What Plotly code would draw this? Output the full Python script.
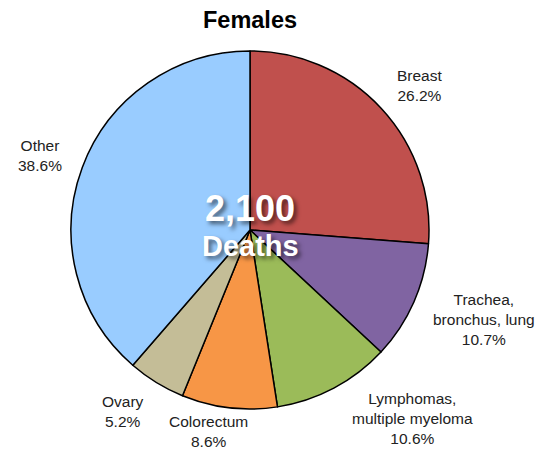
import math
import plotly.graph_objects as go

# Share of female cancer deaths by site
sites = ["Breast", "Trachea,<br>bronchus, lung", "Lymphomas,<br>multiple myeloma",
         "Colorectum", "Ovary", "Other"]
shares = [26.2, 10.7, 10.6, 8.6, 5.2, 38.6]
colors = ["#C0504D", "#8064A2", "#9BBB59", "#F79646", "#C4BD97", "#99CCFF"]
total_deaths = "2,100"

W, H = 550, 450
cx, cy, r = 250, 230, 179  # pie centre and radius in pixels

fig = go.Figure(go.Pie(
    values=shares,
    labels=sites,
    sort=False,
    direction="clockwise",
    rotation=0,
    marker=dict(colors=colors, line=dict(color="black", width=1.5)),
    textinfo="none",
    hoverinfo="label+percent",
    showlegend=False,
    domain=dict(x=[(cx - r) / W, (cx + r) / W], y=[1 - (cy + r) / H, 1 - (cy - r) / H]),
))

# Outside labels placed along each slice's mid-angle, with small hand nudges (px)
font_lbl = dict(family="Liberation Sans, Arial, sans-serif", size=15.5, color="#222")
rx, ry = 198, 213
nudge = {"Lymphomas,<br>multiple myeloma": (7, 0),
         "Colorectum": (-19, -10),
         "Trachea,<br>bronchus, lung": (0, 4)}
cum = 0.0
tot = sum(shares)
for name, v in zip(sites, shares):
    mid = (cum + v / 2) / tot * 2 * math.pi
    cum += v
    dx, dy = math.sin(mid), -math.cos(mid)
    nx, ny = nudge.get(name, (0, 0))
    px, py = cx + rx * dx + nx, cy + ry * dy + ny
    if dx > 0.3:
        xa = "left"
    elif dx < -0.3:
        xa = "right"
    else:
        xa = "center"
    fig.add_annotation(
        x=px / W, y=1 - py / H, xref="paper", yref="paper",
        text=f"{name}<br>{v:.1f}%", showarrow=False,
        xanchor=xa, yanchor="middle", align="center", font=font_lbl,
    )

shadow = "3px 3px 4px rgba(0,0,0,0.55)"
fig.add_annotation(
    x=cx / W, y=1 - 208 / H, xref="paper", yref="paper",
    text=f"<b>{total_deaths}</b>", showarrow=False,
    font=dict(family="Liberation Sans, Arial, sans-serif", size=36, color="white", shadow=shadow),
)
fig.add_annotation(
    x=cx / W, y=1 - 246 / H, xref="paper", yref="paper",
    text="<b>Deaths</b>", showarrow=False,
    font=dict(family="Liberation Sans, Arial, sans-serif", size=29, color="white", shadow=shadow),
)

fig.update_layout(
    width=W, height=H,
    margin=dict(l=0, r=0, t=0, b=0),
    paper_bgcolor="white", plot_bgcolor="white",
    title=dict(text="<b>Females</b>", x=cx / W, xanchor="center", y=1 - 20 / H, yanchor="middle",
               font=dict(family="Liberation Sans, Arial, sans-serif", size=23.5, color="black")),
)

fig.write_html("out.html")
